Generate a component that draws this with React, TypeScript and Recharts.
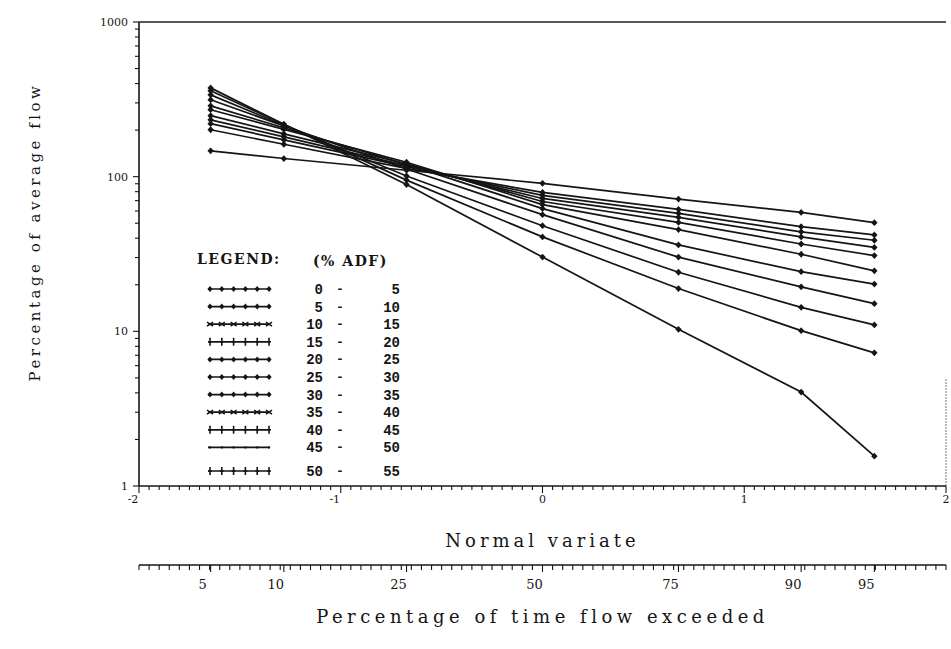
import React from "react";
import { LineChart, Line, XAxis, YAxis, ReferenceLine } from "recharts";

// normal variates for 5, 10, 25, 50, 75, 90, 95 % of time exceeded
const variates = [-1.645, -1.282, -0.674, 0, 0.674, 1.282, 1.645];
const exceedLabels = ["5", "10", "25", "50", "75", "90", "95"];
const variateLabels = [-2, -1, 0, 1, 2];
const flowLabels = [1, 10, 100, 1000];

// legend groups (% ADF)
const adfLow = ["0", "5", "10", "15", "20", "25", "30", "35", "40", "45", "50"];
const adfHigh = ["5", "10", "15", "20", "25", "30", "35", "40", "45", "50", "55"];

// percentage of average flow, one array per group
const adf0_5 = [375, 218, 89, 30.2, 10.3, 4.05, 1.56];
const adf5_10 = [359, 218, 95, 40.8, 18.9, 10.1, 7.26];
const adf10_15 = [338, 215, 101, 48.2, 24.1, 14.3, 11.0];
const adf15_20 = [314, 213, 112, 56.8, 30.2, 19.4, 15.1];
const adf20_25 = [287, 207, 120, 62.2, 36.2, 24.3, 20.2];
const adf25_30 = [271, 202, 124, 66.0, 45.5, 31.5, 24.6];
const adf30_35 = [248, 189, 121, 69.1, 50.6, 36.7, 30.9];
const adf35_40 = [233, 181, 118, 72.3, 54.6, 40.8, 34.9];
const adf40_45 = [220, 173, 116, 75.6, 57.9, 44.0, 38.8];
const adf45_50 = [201, 162, 113, 79.1, 61.5, 47.5, 42.0];
const adf50_55 = [147, 131, 110, 90.6, 71.6, 58.7, 50.4];

const groups = [
  adf0_5, adf5_10, adf10_15, adf15_20, adf20_25, adf25_30,
  adf30_35, adf35_40, adf40_45, adf45_50, adf50_55,
];

const data = variates.map((z, i) => {
  const row: Record<string, number> = { z };
  groups.forEach((g, k) => {
    row[`s${k}`] = g[i];
  });
  return row;
});

const minorX: number[] = [];
for (let i = 0; i <= 80; i++) minorX.push(Math.round((-2 + i * 0.05) * 100) / 100);
const pctTicks = Array.from(new Set([...minorX, ...variates])).sort((a, b) => a - b);

const minorY: number[] = [];
[1, 10, 100].forEach((d) => {
  for (let m = 1; m <= 9; m++) minorY.push(d * m);
});
minorY.push(1000);

const ink = "#151515";
const markKinds = ["dia", "dia", "star", "cross", "dia", "dia", "dia", "star", "cross", "plain", "cross"];

const VariateTick = (props: any) => {
  const { x, y, payload } = props;
  const v = payload.value;
  const major = variateLabels.includes(v);
  return (
    <g>
      <line x1={x} y1={y} x2={x} y2={y + (major ? 7 : 4)} stroke={ink} strokeWidth={1.1} />
      {major && (
        <text x={v < 0 ? x - 6 : x} y={y + 17} textAnchor="middle" fontSize={11} fill={ink}>
          {v < 0 ? `-${-v}` : v}
        </text>
      )}
    </g>
  );
};

const PctTick = (props: any) => {
  const { x, y, payload } = props;
  const idx = variates.indexOf(payload.value);
  return (
    <g>
      <line x1={x} y1={y} x2={x} y2={y + (idx >= 0 ? 7 : 5)} stroke={ink} strokeWidth={1.1} />
      {idx >= 0 && (
        <text x={x - 8} y={y + 24} textAnchor="middle" fontSize={13} fill={ink}>
          {exceedLabels[idx]}
        </text>
      )}
    </g>
  );
};

const FlowTick = (props: any) => {
  const { x, y, payload } = props;
  const v = payload.value;
  const major = flowLabels.includes(v);
  return (
    <g>
      <line x1={x - (major ? 6 : 4)} y1={y} x2={x} y2={y} stroke={ink} strokeWidth={1.1} />
      {major && (
        <text x={x - 11} y={y + 4} textAnchor="end" fontSize={11} fill={ink}>
          {v}
        </text>
      )}
    </g>
  );
};

const Diamond = (props: any) => {
  const { cx, cy, index } = props;
  if (cx == null || cy == null) return <g key={index} />;
  return (
    <path
      key={index}
      d={`M${cx},${cy - 3.4} L${cx + 3.2},${cy} L${cx},${cy + 3.4} L${cx - 3.2},${cy} Z`}
      fill={ink}
    />
  );
};

const Mark = ({ x, y, kind }: { x: number; y: number; kind: string }) => {
  if (kind === "cross")
    return (
      <path d={`M${x},${y - 4} V${y + 4} M${x - 2},${y} H${x + 2}`} stroke={ink} strokeWidth={1.6} />
    );
  if (kind === "star")
    return (
      <path d={`M${x - 3},${y - 2} L${x + 3},${y + 2} M${x - 3},${y + 2} L${x + 3},${y - 2}`} stroke={ink} strokeWidth={1.5} />
    );
  if (kind === "plain") return <circle cx={x} cy={y} r={1.2} fill={ink} />;
  return <path d={`M${x},${y - 3} L${x + 2.6},${y} L${x},${y + 3} L${x - 2.6},${y} Z`} fill={ink} />;
};

const LegendBox = () => (
  <svg
    width={951}
    height={649}
    style={{ position: "absolute", left: 0, top: 0, pointerEvents: "none" }}
  >
    <text x={197} y={264} fontSize={14} fontWeight="bold" letterSpacing={1.5} fill={ink}>
      LEGEND:
    </text>
    <text x={313} y={266} fontSize={14} fontWeight="bold" letterSpacing={1.5} fill={ink}>
      (% ADF)
    </text>
    {adfLow.map((lo, i) => {
      const y = 289 + i * 17.6 + (i === 10 ? 6 : 0);
      return (
        <g key={lo}>
          <line x1={208} y1={y} x2={270} y2={y} stroke={ink} strokeWidth={1.7} />
          {[0, 1, 2, 3, 4, 5].map((j) => (
            <Mark key={j} x={210 + j * 11.8} y={y} kind={markKinds[i]} />
          ))}
          <text x={323} y={y + 5} textAnchor="end" fontSize={14} fontWeight="bold" fontFamily="Liberation Mono" fill={ink}>
            {lo}
          </text>
          <text x={340} y={y + 4} textAnchor="middle" fontSize={13} fontWeight="bold" fontFamily="Liberation Mono" fill={ink}>
            -
          </text>
          <text x={400} y={y + 5} textAnchor="end" fontSize={14} fontWeight="bold" fontFamily="Liberation Mono" fill={ink}>
            {adfHigh[i]}
          </text>
        </g>
      );
    })}
  </svg>
);

export default function App() {
  return (
    <div
      style={{
        position: "absolute",
        left: 0,
        top: 0,
        width: 951,
        height: 649,
        background: "#fff",
        fontFamily: "'DejaVu Serif', serif",
      }}
    >
      <LineChart
        width={951}
        height={649}
        data={data}
        margin={{ top: 22, right: 5, left: 0, bottom: 24 }}
      >
        <XAxis
          xAxisId="main"
          dataKey="z"
          type="number"
          domain={[-2, 2]}
          allowDataOverflow
          ticks={minorX}
          interval={0}
          tickSize={0}
          tickMargin={0}
          tick={<VariateTick />}
          axisLine={{ stroke: ink, strokeWidth: 1.6 }}
          height={79}
          label={{
            value: "Normal variate",
            position: "insideBottom",
            offset: 18,
            fontSize: 18,
            letterSpacing: 4,
            fill: ink,
          }}
        />
        <XAxis
          xAxisId="pct"
          dataKey="z"
          type="number"
          domain={[-2, 2]}
          allowDataOverflow
          ticks={pctTicks}
          interval={0}
          tickSize={0}
          tickMargin={0}
          tick={<PctTick />}
          axisLine={{ stroke: ink, strokeWidth: 1.6 }}
          height={60}
          label={{
            value: "Percentage of time flow exceeded",
            position: "insideBottom",
            offset: 2,
            fontSize: 18,
            letterSpacing: 4.5,
            fill: ink,
          }}
        />
        <YAxis
          scale="log"
          domain={[1, 1000]}
          allowDataOverflow
          type="number"
          ticks={minorY}
          interval={0}
          tickSize={0}
          tickMargin={0}
          tick={<FlowTick />}
          axisLine={{ stroke: ink, strokeWidth: 1.6 }}
          width={139}
          label={{
            content: () => (
              <text
                x={40}
                y={232}
                transform="rotate(-90 40 232)"
                textAnchor="middle"
                fontSize={15}
                letterSpacing={3.5}
                fill={ink}
              >
                Percentage of average flow
              </text>
            ),
          }}
        />
        <ReferenceLine xAxisId="main" y={1000} stroke="#222" strokeWidth={1.3} />
        <ReferenceLine
          xAxisId="main"
          segment={[
            { x: 2, y: 1 },
            { x: 2, y: 5 },
          ]}
          stroke="#777"
          strokeDasharray="2 1"
          strokeWidth={1}
        />
        {groups.map((_, k) => (
          <Line
            key={k}
            xAxisId="main"
            dataKey={`s${k}`}
            stroke={ink}
            strokeWidth={1.7}
            dot={<Diamond />}
            activeDot={false}
            isAnimationActive={false}
          />
        ))}
      </LineChart>
      <LegendBox />
    </div>
  );
}
